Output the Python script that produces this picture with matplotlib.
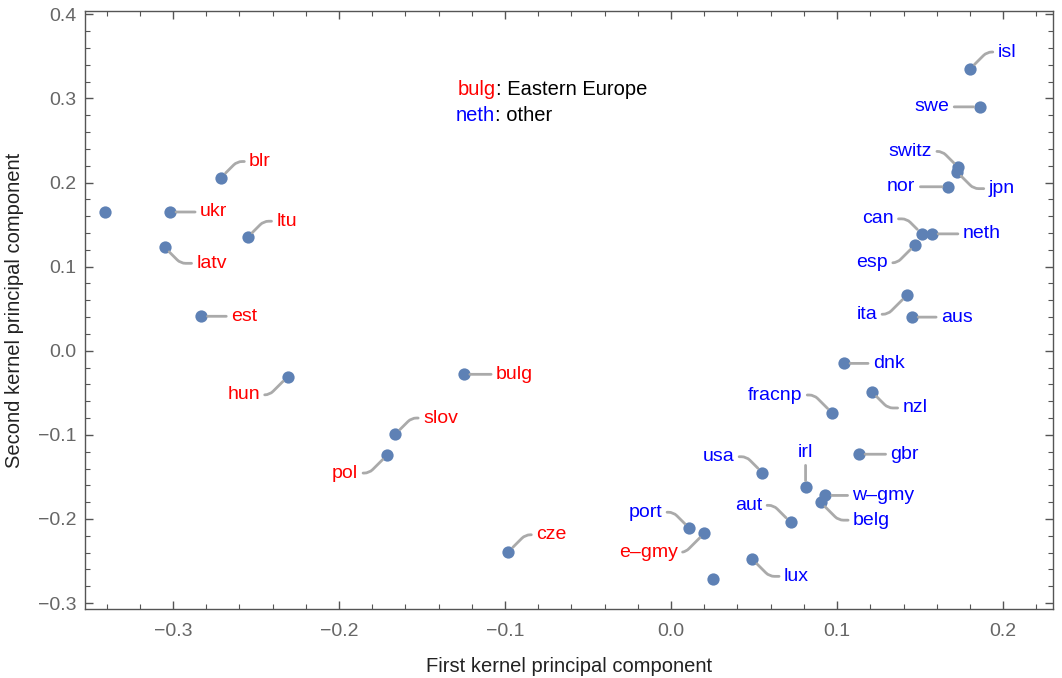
import matplotlib.pyplot as plt
import numpy as np
from matplotlib.ticker import MultipleLocator, FuncFormatter

plt.rcParams['font.family'] = ['Liberation Sans', 'DejaVu Sans']

# kernel PCA scores
countries = ["", "ukr", "blr", "ltu", "latv", "est", "hun", "bulg", "slov", "pol",
             "cze", "port", "e–gmy", "", "lux", "aut", "usa", "irl", "w–gmy", "belg",
             "gbr", "fracnp", "nzl", "dnk", "ita", "aus", "esp", "can", "neth", "nor",
             "switz", "jpn", "swe", "isl"]
pc1 = [-0.341, -0.302, -0.271, -0.255, -0.305, -0.283, -0.231, -0.125, -0.166, -0.171,
       -0.098, 0.011, 0.020, 0.025, 0.049, 0.072, 0.055, 0.081, 0.093, 0.090,
       0.113, 0.097, 0.121, 0.104, 0.142, 0.145, 0.147, 0.151, 0.157, 0.167,
       0.173, 0.172, 0.186, 0.180]
pc2 = [0.165, 0.165, 0.206, 0.135, 0.123, 0.041, -0.031, -0.028, -0.099, -0.124,
       -0.239, -0.211, -0.217, -0.271, -0.248, -0.204, -0.145, -0.162, -0.172, -0.180,
       -0.123, -0.074, -0.049, -0.015, 0.066, 0.040, 0.126, 0.139, 0.139, 0.195,
       0.218, 0.213, 0.290, 0.335]
eastern = ["", "ukr", "blr", "ltu", "latv", "est", "hun", "bulg", "slov", "pol",
           "cze", "e–gmy"]

# where each label sits relative to its point, in pixels (x right, y up)
label_offsets = {
    "ukr": (44, 0), "blr": (39, 16), "ltu": (39, 16), "latv": (47, -16),
    "est": (43, 0), "hun": (-44, -18), "bulg": (51, 0), "slov": (45, 16),
    "pol": (-42, -18), "cze": (43, 17), "port": (-44, 16), "e–gmy": (-56, -19),
    "lux": (44, -17), "aut": (-42, 17), "usa": (-44, 16), "irl": (0, 35),
    "w–gmy": (58, 0), "belg": (51, -18), "gbr": (46, 0), "fracnp": (-57, 18),
    "nzl": (43, -16), "dnk": (45, 0), "ita": (-40, -19), "aus": (45, 0),
    "esp": (-43, -18), "can": (-44, 15), "neth": (50, 0), "nor": (-47, 0),
    "switz": (-48, 16), "jpn": (45, -17), "swe": (-48, 0), "isl": (37, 17),
}

fig = plt.figure(figsize=(10.62, 6.78), dpi=100)
ax = fig.add_axes([0.080, 0.1018, 0.9115, 0.882])

ax.scatter(pc1, pc2, s=78, color="#5E81B5", zorder=3, linewidths=0)

for name, x, y in zip(countries, pc1, pc2):
    if name == "":
        continue
    dx, dy = label_offsets[name]
    if dx == 0 or dy == 0:
        conn = "arc3,rad=0"
    else:
        conn = "angle,angleA=0,angleB=%d,rad=5" % (45 if dx * dy > 0 else -45)
    ax.annotate(name, xy=(x, y), xytext=(dx, dy), textcoords="offset pixels",
                ha="center", va="center", fontsize=14,
                color="red" if name in eastern else "blue",
                arrowprops=dict(arrowstyle="-", color="#aaaaaa", lw=2.0,
                                shrinkA=1.5, shrinkB=4.6, connectionstyle=conn))

# little two-colour key
t1 = ax.text(0.385, 0.868, "bulg", color="red", fontsize=14.5,
             transform=ax.transAxes, va="center")
ax.annotate(": Eastern Europe", xy=(1, 0), xycoords=t1, va="bottom",
            fontsize=14.5, color="black")
t2 = ax.text(0.383, 0.826, "neth", color="blue", fontsize=14.5,
             transform=ax.transAxes, va="center")
ax.annotate(": other", xy=(1, 0), xycoords=t2, va="bottom",
            fontsize=14.5, color="black")

ax.set_xlim(-0.353, 0.230)
ax.set_ylim(-0.307, 0.404)
ax.xaxis.set_major_locator(MultipleLocator(0.1))
ax.xaxis.set_minor_locator(MultipleLocator(0.02))
ax.yaxis.set_major_locator(MultipleLocator(0.1))
ax.yaxis.set_minor_locator(MultipleLocator(0.02))
fmt = FuncFormatter(lambda v, p: ("%.1f" % v).replace("-", "\u2212"))
ax.xaxis.set_major_formatter(fmt)
ax.yaxis.set_major_formatter(fmt)
ax.tick_params(which="both", direction="in", top=True, right=True,
               color="#555555", labelcolor="#666666", labelsize=14)
ax.tick_params(which="major", length=6, width=1)
ax.tick_params(which="minor", length=3.5, width=0.8)
ax.tick_params(axis="x", pad=10)
ax.tick_params(axis="y", pad=6)
for s in ax.spines.values():
    s.set_color("#555555")
    s.set_linewidth(1.0)

ax.set_xlabel("First kernel principal component", fontsize=14.5, color="#222222",
              labelpad=12)
ax.set_ylabel("Second kernel principal component", fontsize=14.5, color="#222222",
              labelpad=10)

fig.savefig("out.png", dpi=100)
